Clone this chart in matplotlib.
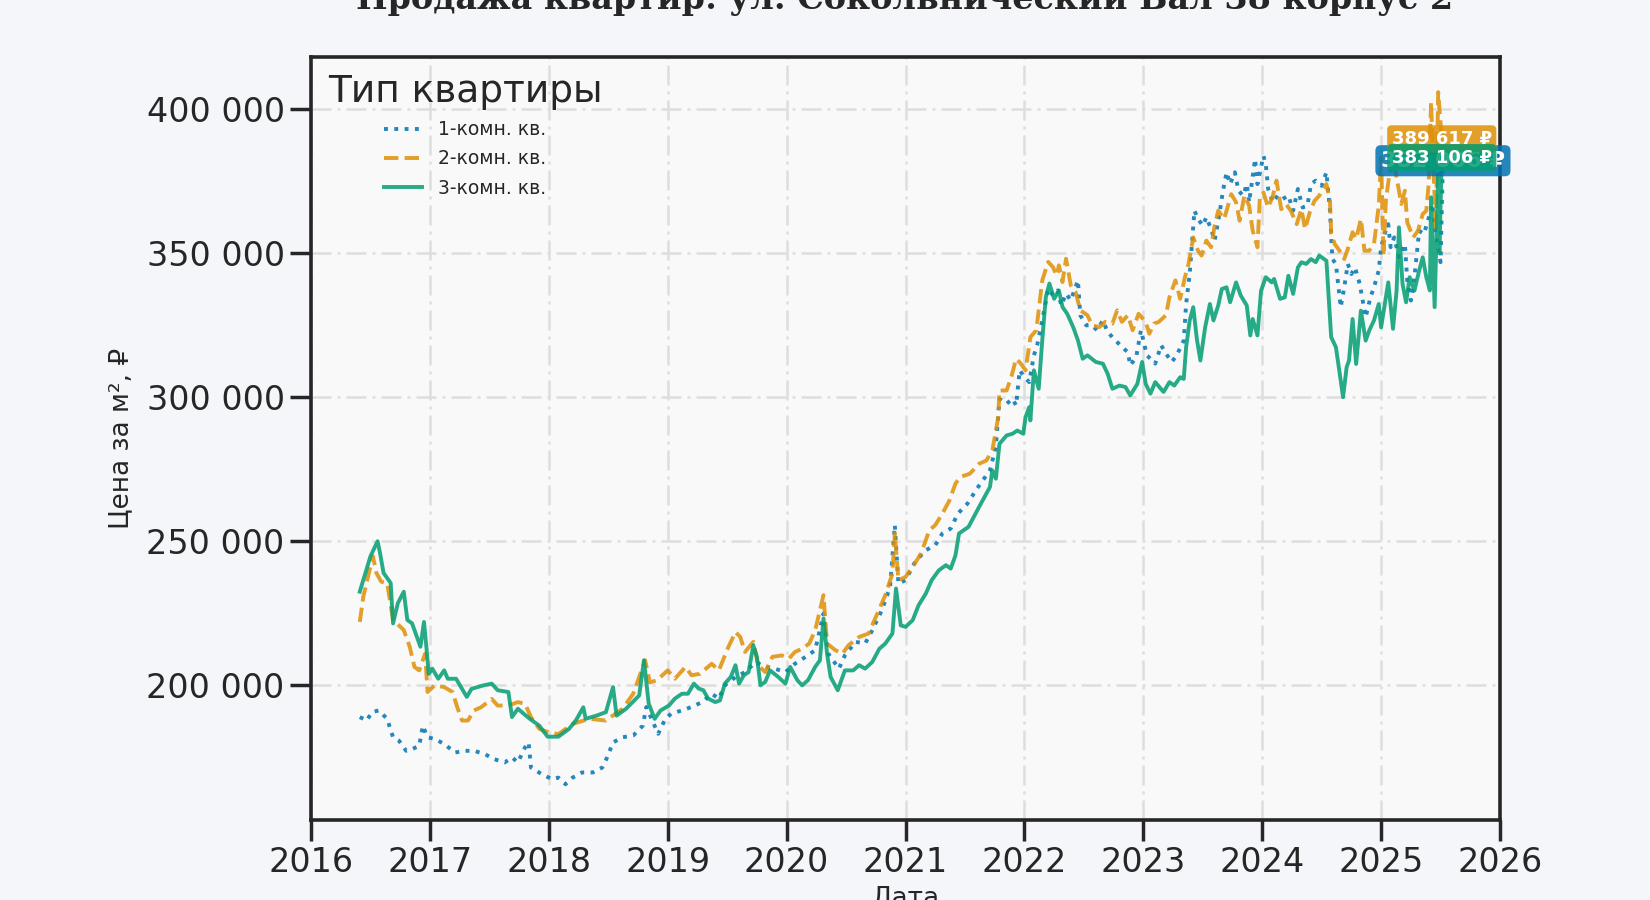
import matplotlib
matplotlib.use("Agg")
import matplotlib.pyplot as plt
from matplotlib.ticker import FuncFormatter, FixedLocator

plt.rcParams['font.family'] = ['DejaVu Sans', 'Noto Sans']

# 1-комн. кв. (дата в долях года, цена за м2)
dates_1 = [2016.41, 2016.47, 2016.51, 2016.57, 2016.64, 2016.69, 2016.74, 2016.80, 2016.85, 2016.91,
           2016.94, 2016.98, 2017.04, 2017.12, 2017.21, 2017.29, 2017.37, 2017.46, 2017.54, 2017.63,
           2017.69, 2017.74, 2017.80, 2017.83, 2017.85, 2017.94, 2018.03, 2018.08, 2018.14, 2018.20,
           2018.28, 2018.37, 2018.45, 2018.49, 2018.54, 2018.62, 2018.71, 2018.79, 2018.82, 2018.87,
           2018.92, 2018.98, 2019.03, 2019.12, 2019.20, 2019.29, 2019.37, 2019.43, 2019.48, 2019.57,
           2019.65, 2019.74, 2019.82, 2019.90, 2019.99, 2020.07, 2020.16, 2020.24, 2020.31, 2020.35,
           2020.44, 2020.49, 2020.58, 2020.66, 2020.72, 2020.80, 2020.87, 2020.91, 2020.94, 2021.00,
           2021.08, 2021.17, 2021.25, 2021.31, 2021.38, 2021.44, 2021.52, 2021.60, 2021.71, 2021.76,
           2021.79, 2021.85, 2021.90, 2021.93, 2021.96, 2022.00, 2022.04, 2022.08, 2022.11, 2022.15,
           2022.20, 2022.24, 2022.28, 2022.31, 2022.35, 2022.39, 2022.45, 2022.47, 2022.52, 2022.57,
           2022.61, 2022.66, 2022.70, 2022.74, 2022.78, 2022.82, 2022.87, 2022.89, 2022.94, 2022.98,
           2023.01, 2023.03, 2023.06, 2023.10, 2023.15, 2023.19, 2023.24, 2023.28, 2023.31, 2023.34,
           2023.36, 2023.39, 2023.43, 2023.46, 2023.50, 2023.53, 2023.57, 2023.60, 2023.64, 2023.67,
           2023.70, 2023.73, 2023.77, 2023.80, 2023.84, 2023.87, 2023.89, 2023.94, 2023.96, 2024.01,
           2024.03, 2024.05, 2024.09, 2024.13, 2024.17, 2024.22, 2024.26, 2024.30, 2024.34, 2024.38,
           2024.41, 2024.45, 2024.50, 2024.54, 2024.57, 2024.59, 2024.62, 2024.66, 2024.69, 2024.72,
           2024.75, 2024.78, 2024.82, 2024.85, 2024.87, 2024.91, 2024.94, 2024.98, 2025.00, 2025.03,
           2025.06, 2025.08, 2025.11, 2025.15, 2025.20, 2025.22, 2025.25, 2025.28, 2025.32, 2025.36,
           2025.41, 2025.43, 2025.46, 2025.50, 2025.52]
price_1 = [189000, 187800, 190700, 191300, 188400, 182000, 180800, 177300, 177900, 179000,
           186000, 182000, 181400, 179700, 176700, 177300, 177300, 176200, 174400, 173300,
           175000, 173300, 178500, 180200, 171500, 169200, 167400, 168000, 165700, 168000,
           169800, 169800, 171500, 175000, 180200, 182000, 182600, 186000, 192500, 187800,
           183200, 188400, 190200, 191300, 192500, 194200, 197100, 195400, 200000, 202900,
           204600, 208100, 206400, 205800, 204600, 207500, 209900, 212200, 224900, 211000,
           205800, 210400, 215100, 214500, 219100, 226000, 234100, 255600, 235300, 236500,
           242800, 246900, 248600, 252700, 254400, 259600, 263000, 268200, 274600, 282700,
           299400, 297700, 299400, 297100, 309300, 307000, 305200, 314500, 318500, 326600,
           337600, 335300, 337000, 331800, 335900, 333600, 340500, 328400, 324900, 324900,
           323200, 326600, 322600, 320800, 319100, 317400, 315600, 311000, 313900, 323200,
           318000, 314500, 313300, 311600, 318000, 315100, 312200, 314500, 317000, 319600,
           332300, 342700, 364700, 361800, 359500, 362400, 358300, 354300, 363500, 371600,
           378000, 373900, 378000, 371600, 369900, 373900, 367600, 382600, 373900, 383700,
           380800, 372200, 367600, 369900, 368700, 369900, 364700, 372200, 365800, 366400,
           373900, 375100, 373300, 378000, 364700, 347900, 346200, 331200, 338100, 346200,
           342700, 345000, 339300, 332300, 327700, 334600, 338100, 343900, 352000, 356600,
           360000, 352000, 355400, 348500, 353100, 340400, 333500, 341600, 357700, 356600,
           363500, 367000, 356600, 346800, 382006]

# 2-комн. кв.
dates_2 = [2016.41, 2016.44, 2016.52, 2016.55, 2016.59, 2016.64, 2016.69, 2016.78, 2016.83, 2016.87,
           2016.91, 2016.96, 2016.98, 2017.04, 2017.12, 2017.19, 2017.23, 2017.27, 2017.32, 2017.37,
           2017.43, 2017.52, 2017.57, 2017.66, 2017.74, 2017.80, 2017.85, 2017.92, 2018.00, 2018.08,
           2018.20, 2018.34, 2018.48, 2018.62, 2018.71, 2018.81, 2018.85, 2018.91, 2019.00, 2019.06,
           2019.15, 2019.20, 2019.27, 2019.37, 2019.43, 2019.51, 2019.57, 2019.61, 2019.65, 2019.72,
           2019.76, 2019.82, 2019.88, 2019.96, 2020.02, 2020.07, 2020.13, 2020.19, 2020.24, 2020.31,
           2020.34, 2020.41, 2020.47, 2020.52, 2020.61, 2020.69, 2020.75, 2020.83, 2020.89, 2020.91,
           2020.94, 2021.00, 2021.06, 2021.13, 2021.20, 2021.25, 2021.31, 2021.37, 2021.42, 2021.46,
           2021.54, 2021.62, 2021.68, 2021.73, 2021.78, 2021.79, 2021.85, 2021.89, 2021.93, 2021.97,
           2022.01, 2022.05, 2022.10, 2022.15, 2022.20, 2022.24, 2022.27, 2022.29, 2022.32, 2022.35,
           2022.39, 2022.43, 2022.47, 2022.53, 2022.57, 2022.63, 2022.68, 2022.74, 2022.78, 2022.82,
           2022.87, 2022.91, 2022.96, 2023.02, 2023.05, 2023.09, 2023.13, 2023.19, 2023.22, 2023.27,
           2023.31, 2023.35, 2023.38, 2023.42, 2023.46, 2023.49, 2023.53, 2023.57, 2023.60, 2023.63,
           2023.68, 2023.74, 2023.78, 2023.81, 2023.85, 2023.89, 2023.92, 2023.96, 2023.98, 2024.01,
           2024.05, 2024.09, 2024.12, 2024.16, 2024.20, 2024.24, 2024.29, 2024.33, 2024.36, 2024.40,
           2024.44, 2024.48, 2024.54, 2024.57, 2024.58, 2024.61, 2024.65, 2024.69, 2024.72, 2024.76,
           2024.79, 2024.83, 2024.86, 2024.90, 2024.94, 2024.98, 2025.00, 2025.02, 2025.04, 2025.07,
           2025.10, 2025.14, 2025.17, 2025.20, 2025.22, 2025.27, 2025.31, 2025.35, 2025.38, 2025.40,
           2025.42, 2025.44, 2025.46, 2025.48, 2025.51]
price_2 = [222000, 230800, 244800, 239000, 236000, 235500, 222700, 219200, 213400, 206400,
           205200, 211000, 197700, 200000, 199400, 197700, 192400, 187800, 187800, 191300,
           192400, 195300, 193000, 193000, 194200, 193600, 189000, 184900, 183700, 183100,
           186600, 188400, 187800, 191900, 197100, 208700, 201000, 201800, 205200, 202300,
           206400, 203500, 204000, 207500, 205200, 213300, 218500, 216800, 211600, 215100,
           207000, 204600, 209900, 210400, 209300, 211600, 212700, 214500, 219100, 231300,
           214500, 212200, 211000, 213900, 216800, 218000, 223700, 231300, 238800, 252700,
           236500, 237600, 241100, 245700, 253800, 255600, 259600, 264200, 270000, 272300,
           273400, 276900, 278000, 281500, 293100, 302300, 302300, 307000, 313300, 311600,
           309300, 320800, 323200, 340500, 346900, 345100, 342200, 345700, 339900, 348000,
           338800, 336500, 330100, 328400, 324900, 324300, 326100, 325500, 330100, 326100,
           328400, 323200, 328900, 326100, 322000, 325500, 326100, 328400, 334700, 340500,
           334100, 341600, 346200, 355400, 350800, 349100, 354300, 352000, 359500, 364700,
           361800, 370400, 367600, 361200, 369900, 366400, 357700, 352000, 369300, 371000,
           365800, 369900, 375100, 365200, 367000, 364700, 360000, 365200, 358300, 364100,
           368100, 369900, 373900, 368100, 356600, 353100, 350800, 347900, 351400, 357200,
           354900, 361800, 350800, 350800, 353100, 366400, 383100, 349100, 368100, 377400,
           383100, 373900, 367000, 371600, 360600, 355400, 357700, 363500, 364700, 373900,
           402300, 380000, 358000, 405800, 389617]

# 3-комн. кв.
dates_3 = [2016.41, 2016.50, 2016.56, 2016.58, 2016.61, 2016.67, 2016.69, 2016.73, 2016.78, 2016.81,
           2016.85, 2016.88, 2016.92, 2016.95, 2016.97, 2016.99, 2017.02, 2017.07, 2017.12, 2017.15,
           2017.22, 2017.31, 2017.35, 2017.45, 2017.52, 2017.57, 2017.66, 2017.69, 2017.74, 2017.79,
           2017.84, 2017.92, 2017.99, 2018.08, 2018.17, 2018.23, 2018.29, 2018.31, 2018.40, 2018.48,
           2018.54, 2018.57, 2018.65, 2018.76, 2018.80, 2018.84, 2018.89, 2018.94, 2019.01, 2019.06,
           2019.12, 2019.17, 2019.22, 2019.26, 2019.30, 2019.34, 2019.40, 2019.44, 2019.48, 2019.53,
           2019.57, 2019.60, 2019.64, 2019.68, 2019.72, 2019.75, 2019.78, 2019.82, 2019.86, 2019.93,
           2019.99, 2020.03, 2020.09, 2020.13, 2020.18, 2020.24, 2020.28, 2020.31, 2020.34, 2020.37,
           2020.43, 2020.49, 2020.56, 2020.61, 2020.66, 2020.72, 2020.78, 2020.83, 2020.89, 2020.92,
           2020.96, 2021.00, 2021.06, 2021.11, 2021.17, 2021.22, 2021.28, 2021.34, 2021.38, 2021.42,
           2021.45, 2021.53, 2021.62, 2021.71, 2021.73, 2021.76, 2021.79, 2021.85, 2021.90, 2021.94,
           2021.99, 2022.01, 2022.04, 2022.05, 2022.08, 2022.12, 2022.15, 2022.18, 2022.21, 2022.25,
           2022.29, 2022.32, 2022.36, 2022.41, 2022.45, 2022.49, 2022.53, 2022.60, 2022.66, 2022.70,
           2022.74, 2022.80, 2022.85, 2022.89, 2022.95, 2022.99, 2023.02, 2023.06, 2023.10, 2023.17,
           2023.22, 2023.26, 2023.31, 2023.34, 2023.36, 2023.39, 2023.42, 2023.45, 2023.48, 2023.52,
           2023.56, 2023.59, 2023.63, 2023.66, 2023.70, 2023.73, 2023.78, 2023.82, 2023.87, 2023.90,
           2023.92, 2023.96, 2023.99, 2024.03, 2024.08, 2024.10, 2024.15, 2024.19, 2024.22, 2024.26,
           2024.30, 2024.33, 2024.37, 2024.41, 2024.45, 2024.48, 2024.54, 2024.58, 2024.62, 2024.68,
           2024.71, 2024.73, 2024.76, 2024.79, 2024.83, 2024.87, 2024.90, 2024.94, 2024.98, 2025.00,
           2025.06, 2025.10, 2025.13, 2025.15, 2025.18, 2025.21, 2025.24, 2025.28, 2025.32, 2025.35,
           2025.38, 2025.41, 2025.42, 2025.45, 2025.48, 2025.49, 2025.51]
price_3 = [232500, 244800, 250000, 246000, 239000, 235500, 221500, 228500, 232500, 222700,
           221500, 218000, 213400, 222000, 213400, 204000, 205800, 202300, 205200, 202300,
           202300, 196000, 198800, 200000, 200600, 198300, 197700, 189000, 191900, 190100,
           188400, 186000, 182200, 182200, 184900, 188000, 192400, 188400, 189500, 190700,
           199400, 189500, 191900, 196500, 208700, 193700, 188400, 191300, 193000, 195400,
           197100, 197100, 200600, 198900, 198300, 195400, 194200, 194800, 200600, 202900,
           207000, 200600, 203500, 204600, 213900, 209900, 200000, 201200, 205200, 202900,
           200600, 206400, 201800, 200000, 201800, 206400, 208700, 223200, 211000, 202900,
           198300, 205200, 205200, 207000, 205800, 208100, 212700, 214500, 218000, 233600,
           220800, 220300, 222600, 227800, 231800, 236500, 239900, 241700, 240500, 245100,
           252700, 255000, 262000, 268800, 274600, 271700, 283800, 286700, 287300, 288400,
           287300, 293100, 296500, 291900, 309300, 302900, 319700, 334700, 339400, 334100,
           337000, 331300, 328900, 324300, 319700, 313300, 314500, 312200, 311600, 308100,
           302900, 304000, 303500, 300600, 304600, 312200, 304600, 301200, 305200, 301800,
           305200, 304000, 306900, 306300, 317300, 326600, 331200, 320200, 312700, 324200,
           332300, 326600, 331800, 337500, 338100, 332900, 339800, 335200, 331800, 321400,
           327100, 321400, 336900, 341600, 339800, 341000, 334100, 334600, 342100, 335800,
           345000, 346800, 346200, 347900, 346800, 349100, 347300, 320800, 317300, 300000,
           310400, 312700, 327100, 311500, 330000, 319600, 323100, 326600, 332300, 324200,
           339800, 323700, 336900, 358900, 339300, 332900, 341600, 336900, 343900, 348500,
           341600, 337000, 369300, 331200, 377400, 350000, 383106]

series_names = ["1-комн. кв.", "2-комн. кв.", "3-комн. кв."]
series_colors = ["#0173b2", "#de8f05", "#029e73"]
series_styles = [":", "--", "-"]
year_ticks = list(range(2016, 2027))
price_ticks = [200000, 250000, 300000, 350000, 400000]


def rub(v):
    return f"{v:,.0f}".replace(",", " ")


fig = plt.figure(figsize=(16.5, 9), dpi=100, facecolor="#f5f6fa")
ax = fig.add_axes([0.1885, 0.0889, 0.7206, 0.8478])
ax.set_facecolor("#f9f9fa")

all_dates = [dates_1, dates_2, dates_3]
all_prices = [price_1, price_2, price_3]
for d, p, name, c, ls in zip(all_dates, all_prices, series_names, series_colors, series_styles):
    ax.plot(d, p, ls, color=c, lw=2.8, alpha=0.85, label=name)

# подписи последних значений
for d, p, c, fs in zip(all_dates, all_prices, series_colors, [16, 13, 13]):
    ax.text(d[-1], p[-1], rub(p[-1]) + " ₽", ha="center", va="center",
            color="white", fontsize=fs, fontweight="bold", zorder=5,
            bbox=dict(boxstyle="round,pad=0.25", fc=c, ec="none", alpha=0.85))

ax.set_xlim(2016, 2026)
ax.set_ylim(153300, 418000)
ax.xaxis.set_major_locator(FixedLocator(year_ticks))
ax.set_xticklabels([str(y) for y in year_ticks])
ax.yaxis.set_major_locator(FixedLocator(price_ticks))
ax.yaxis.set_major_formatter(FuncFormatter(lambda v, pos: rub(v)))

ax.grid(True, linestyle=(0, (8, 2.4, 1.2, 2.4)), color="#dedede", linewidth=1.8)
ax.tick_params(axis="both", labelsize=24, length=15, width=2.5, pad=4,
               color="#262626", labelcolor="#262626")
for s in ax.spines.values():
    s.set_linewidth(2.6)
    s.set_color("#262626")

ax.set_xlabel("Дата", fontsize=19, color="#262626")
ax.set_ylabel("Цена за м², ₽", fontsize=19, color="#262626", labelpad=8.5)

leg = ax.legend(title="Тип квартиры", loc="upper left", frameon=False,
                fontsize=13.5, title_fontsize=27, labelspacing=0.55,
                handlelength=2.0, handletextpad=0.85)
for t in leg.get_texts():
    t.set_color("#262626")
leg.get_title().set_color("#262626")

fig.text(0.5485, 0.99, "Продажа квартир: ул. Сокольнический Вал 38 корпус 2",
         ha="center", va="baseline", fontsize=24, fontweight="bold",
         family="DejaVu Serif", color="#262626")

fig.savefig("out.png", dpi=100, facecolor=fig.get_facecolor())
